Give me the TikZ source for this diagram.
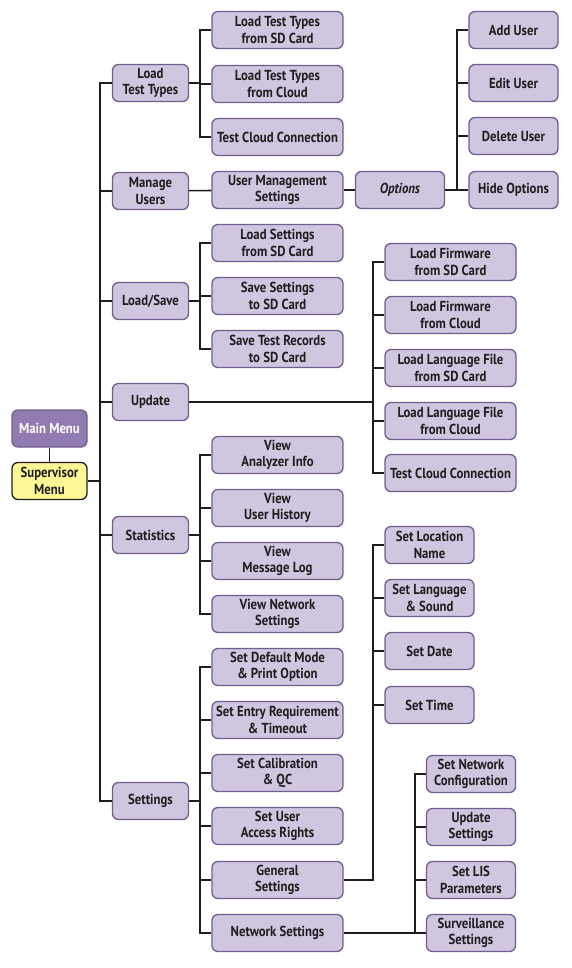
\documentclass[tikz,border=0pt]{standalone}
\usepackage{fontspec}
\setmainfont{PT Sans}[FakeStretch=0.88]
\usepackage{tikz}
\usetikzlibrary{positioning,calc}
\definecolor{lav}{RGB}{209,198,224}
\definecolor{lavedge}{RGB}{112,94,142}
\definecolor{mainfill}{RGB}{145,124,178}
\definecolor{supfill}{RGB}{255,246,150}
\definecolor{ink}{RGB}{30,30,30}
\tikzset{
  box/.style={draw=lavedge,fill=lav,rounded corners=6pt,line width=1.3pt,
    minimum height=37pt,inner sep=1pt,align=center,
    font=\fontsize{14.5}{16.5}\selectfont\bfseries,text=ink},
  lone/.style={box,minimum width=76pt},
  ltwo/.style={box,minimum width=131pt},
  lsmall/.style={box,minimum width=89pt},
  link/.style={draw=ink,line width=1.6pt},
}
\begin{document}
\begin{tikzpicture}[x=1pt,y=-1pt]
  \useasboundingbox (0,0) rectangle (571,968);
  % root
  \node[box,minimum width=75pt,fill=mainfill,draw=lavedge,text=white] (main) at (49.5,428.5) {Main Menu};
  \node[box,minimum width=75pt,fill=supfill,draw=ink] (sup) at (49.5,481) {Supervisor\\Menu};
  \draw[link] (main) -- (sup);

  % trunk x positions
  \coordinate (t0) at (100,0);
  \coordinate (t1) at (200,0);
  \coordinate (t2) at (373,0);
  \coordinate (t3) at (415,0);
  \coordinate (t4) at (457,0);

  % first level
  \node[lone] (ltt) at (150.5,83) {Load\\Test Types};
  \node[lone] (mu) at (150.5,191) {Manage\\Users};
  \node[lone] (ls) at (150.5,301) {Load/Save};
  \node[lone] (upd) at (150.5,402) {Update};
  \node[lone] (stat) at (150.5,535) {Statistics};
  \node[lone] (set) at (150.5,801) {Settings};
  \foreach \n in {ltt,mu,ls,upd,stat,set}
    \draw[link] (sup.east) -- (sup.east -| t0) |- (\n.west);

  % load test types
  \node[ltwo] (ltt1) at (277.5,30) {Load Test Types\\from SD Card};
  \node[ltwo] (ltt2) at (277.5,84) {Load Test Types\\from Cloud};
  \node[ltwo] (ltt3) at (277.5,137) {Test Cloud Connection};
  \foreach \n in {ltt1,ltt2,ltt3}
    \draw[link] (ltt.east) -- (ltt.east -| t1) |- (\n.west);

  % manage users
  \node[ltwo] (ums) at (277.5,190) {User Management\\Settings};
  \node[lsmall,font=\fontsize{14.5}{16.5}\selectfont\bfseries\itshape] (opt) at (400,190) {Options};
  \draw[link] (mu) -- (ums);
  \draw[link] (ums) -- (opt);
  \node[lsmall] (opt1) at (513.5,30) {Add User};
  \node[lsmall] (opt2) at (513.5,83) {Edit User};
  \node[lsmall] (opt3) at (513.5,136) {Delete User};
  \node[lsmall] (opt4) at (513.5,190) {Hide Options};
  \foreach \n in {opt1,opt2,opt3,opt4}
    \draw[link] (opt.east) -- (opt.east -| t4) |- (\n.west);

  % load/save
  \node[ltwo] (ls1) at (277.5,243) {Load Settings\\from SD Card};
  \node[ltwo] (ls2) at (277.5,296) {Save Settings\\to SD Card};
  \node[ltwo] (ls3) at (277.5,349) {Save Test Records\\to SD Card};
  \foreach \n in {ls1,ls2,ls3}
    \draw[link] (ls.east) -- (ls.east -| t1) |- (\n.west);

  % update
  \node[ltwo] (upd1) at (450.5,262) {Load Firmware\\from SD Card};
  \node[ltwo] (upd2) at (450.5,315) {Load Firmware\\from Cloud};
  \node[ltwo] (upd3) at (450.5,368) {Load Language File\\from SD Card};
  \node[ltwo] (upd4) at (450.5,421) {Load Language File\\from Cloud};
  \node[ltwo] (upd5) at (450.5,473) {Test Cloud Connection};
  \foreach \n in {upd1,upd2,upd3,upd4,upd5}
    \draw[link] (upd.east) -- (upd.east -| t2) |- (\n.west);

  % statistics
  \node[ltwo] (stat1) at (277.5,455) {View\\Analyzer Info};
  \node[ltwo] (stat2) at (277.5,508) {View\\User History};
  \node[ltwo] (stat3) at (277.5,561) {View\\Message Log};
  \node[ltwo] (stat4) at (277.5,614) {View Network\\Settings};
  \foreach \n in {stat1,stat2,stat3,stat4}
    \draw[link] (stat.east) -- (stat.east -| t1) |- (\n.west);

  % settings
  \node[ltwo] (set1) at (277.5,667) {Set Default Mode\\\& Print Option};
  \node[ltwo] (set2) at (277.5,720) {Set Entry Requirement\\\& Timeout};
  \node[ltwo] (set3) at (277.5,773) {Set Calibration\\\& QC};
  \node[ltwo] (set4) at (277.5,826) {Set User\\Access Rights};
  \node[ltwo] (gen) at (277.5,880) {General\\Settings};
  \node[ltwo] (net) at (277.5,933) {Network Settings};
  \foreach \n in {set1,set2,set3,set4,gen,net}
    \draw[link] (set.east) -- (set.east -| t1) |- (\n.west);

  % general settings
  \node[lsmall] (gen1) at (429.5,545) {Set Location\\Name};
  \node[lsmall] (gen2) at (429.5,598) {Set Language\\\& Sound};
  \node[lsmall] (gen3) at (429.5,651) {Set Date};
  \node[lsmall] (gen4) at (429.5,705) {Set Time};
  \foreach \n in {gen1,gen2,gen3,gen4}
    \draw[link] (gen.east) -- (gen.east -| t2) |- (\n.west);

  % network settings
  \node[lsmall] (net1) at (471,774) {Set Network\\Configuration};
  \node[lsmall] (net2) at (471,827) {Update\\Settings};
  \node[lsmall] (net3) at (471,880) {Set LIS\\Parameters};
  \node[lsmall] (net4) at (471,933) {Surveillance\\Settings};
  \foreach \n in {net1,net2,net3,net4}
    \draw[link] (net.east) -- (net.east -| t3) |- (\n.west);
\end{tikzpicture}
\end{document}
